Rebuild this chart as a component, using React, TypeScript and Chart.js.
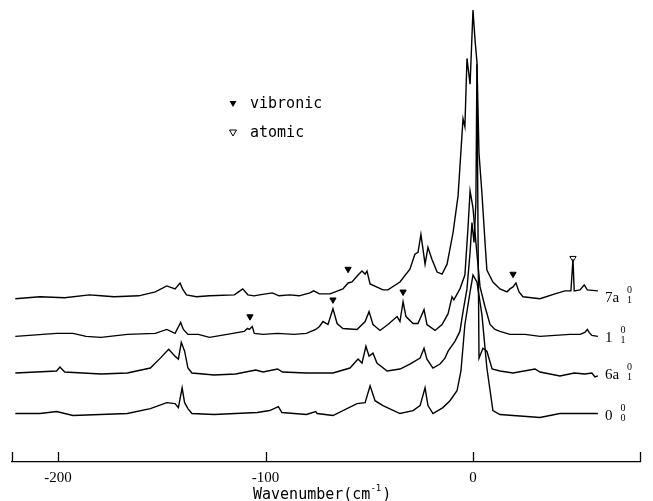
import React, { useEffect, useRef } from "react";
import { Chart, registerables } from "chart.js";
Chart.register(...registerables);

// Axis range (cm^-1) and tick labels
const X_MIN = -222.2;
const X_MAX = 80.5;
const tickValues = [-200, -100, 0];
const tickLabels = ["-200", "-100", "0"];

// Trace names (main, superscript, subscript) and vertical offsets (arb. units)
const traceMain = ["7a", "1", "6a", "0"];
const traceSup = ["0", "0", "0", "0"];
const traceSub = ["1", "1", "1", "0"];
const traceOffsets = [168, 127, 90, 49];

// 7a(1,0) spectrum
const x7a = [-220.6, -208.7, -196.8, -184.9, -179.3, -173.0, -161.1, -153.1, -147.6, -143.6, -141.2, -140.0, -138.1, -133.3, -127.0, -115.0, -113.0, -111.0, -108.5, -105.5, -102.9, -96.7, -93.5, -88.3, -83.8, -78.6, -76.8, -74.0, -68.9, -62.7, -60.2, -58.3, -55.4, -53.5, -52.0, -51.1, -49.6, -43.4, -41.0, -35.2, -30.4, -28.0, -26.5, -25.1, -23.1, -21.7, -19.8, -17.3, -14.9, -12.5, -9.6, -7.2, -4.8, -3.9, -2.9, -1.4, 0, 1.0, 1.9, 2.9, 4.3, 5.8, 6.7, 9.6, 13.0, 16.4, 17.8, 19.3, 20.7, 22.2, 24.1, 32.3, 39.5, 44.3, 47.2, 48.2, 48.8, 51.6, 53.6, 55.1, 60.2];
const y7a = [-3, -1, -2, 1, 0, -1, 0, 4, 10, 7, 13, 7, 1, -1, 0, 1, 4, 7, 1, 0, 1, 3, 0, 1, 0, 3, 5, 2, 2, 7, 13, 14, 21, 25, 22, 25, 12, 6, 6, 14, 27, 42, 44, 62, 32, 49, 37, 24, 22, 32, 64, 101, 179, 171, 240, 214, 289, 258, 237, 144, 104, 54, 26, 14, 7, 4, 7, 9, 13, 4, -1, -3, 2, 5, 5, 37, 5, 6, 11, 6, 5];

// 1(1,0) spectrum
const x1 = [-220.6, -200.7, -192.8, -186.5, -179.3, -166.6, -153.1, -147.6, -143.6, -140.9, -139.6, -137.4, -132.4, -127.0, -118.5, -110.3, -108.7, -107.8, -106.4, -105.4, -101.2, -94.2, -86.2, -80.3, -75.8, -74.0, -72.3, -69.9, -67.5, -65.5, -62.7, -55.9, -52.0, -50.1, -48.2, -44.8, -41.0, -36.6, -35.2, -33.7, -32.3, -28.9, -26.5, -23.6, -22.2, -18.3, -14.9, -12.0, -10.1, -9.2, -6.3, -3.9, -2.4, -1.4, 0, 1.4, 3.4, 5.8, 8.2, 10.6, 13.0, 17.8, 25.1, 32.3, 46.7, 51.6, 53.9, 55.1, 56.0, 57.3, 60.2];
const y1 = [0, 3, 3, 0, -1, 2, 3, 7, 3, 14, 7, 2, 2, -1, 2, 5, 8, 7, 10, 3, 2, 3, 2, 3, 7, 10, 15, 12, 28, 13, 8, 7, 15, 25, 12, 6, 12, 20, 15, 35, 20, 13, 13, 27, 12, 6, 12, 23, 40, 37, 48, 62, 110, 147, 130, 95, 50, 30, 12, 7, 5, 2, 2, 0, 2, 2, 4, 7, 4, 1, 0];

// 6a(1,0) spectrum
const x6a = [-220.6, -200.7, -199.1, -196.8, -179.3, -166.6, -155.5, -150.7, -146.7, -143.6, -142.0, -140.6, -139.0, -137.4, -135.5, -124.8, -114.4, -104.7, -101.2, -94.2, -91.8, -80.3, -67.5, -59.3, -55.4, -53.5, -51.6, -50.1, -48.2, -46.3, -41.4, -35.2, -30.4, -25.5, -23.6, -22.2, -19.3, -15.9, -13.5, -12.0, -8.7, -6.3, -4.8, -2.9, -1.4, -0.5, 0.5, 1.4, 1.9, 2.4, 2.9, 4.8, 6.7, 9.2, 13.0, 19.3, 29.9, 32.3, 41.9, 48.8, 53.9, 57.3, 58.8, 60.2];
const y6a = [0, 2, 6, 1, -1, 0, 5, 15, 24, 17, 14, 31, 22, 5, 0, -2, -1, 3, 1, 4, 1, 0, 0, 5, 14, 10, 27, 17, 20, 10, 2, 4, 9, 15, 25, 14, 5, 9, 15, 22, 32, 42, 62, 85, 122, 152, 132, 172, 312, 150, 15, 25, 22, 4, 2, 0, 4, 1, -3, 0, -1, 0, -4, -3];

// 0(0,0) spectrum
const x00 = [-220.6, -208.7, -200.7, -192.8, -166.6, -155.5, -147.6, -143.6, -142.0, -140.2, -139.0, -137.4, -135.5, -124.8, -114.4, -104.0, -98.0, -93.8, -92.1, -80.3, -75.8, -75.1, -67.5, -55.9, -52.0, -49.6, -47.2, -43.4, -35.2, -28.9, -25.5, -23.1, -21.7, -19.3, -14.5, -11.1, -7.7, -5.8, -3.9, -1.4, 0, 1.9, 4.3, 6.7, 9.6, 13.0, 32.3, 41.9, 60.2];
const y00 = [0, 0, 2, -2, 0, 5, 11, 10, 6, 26, 11, 5, 0, -1, 0, 1, 3, 7, 1, -1, 2, 0, -2, 10, 11, 28, 13, 8, 0, 3, 8, 26, 8, 0, 6, 13, 23, 43, 90, 123, 140, 133, 100, 46, 3, -1, -4, 0, 0];

// Marker positions (x in cm^-1, height above the trace baseline)
const vib7aX = [-60.2, 19.3];
const vib7aY = [27, 22];
const vib1X = [-107.5, -67.5, -33.7];
const vib1Y = [20, 37, 45];
const atom7aX = [48.2];
const atom7aY = [38];

const legendLabels = ["vibronic", "atomic"];
const xTitle = "Wavenumber(cm";
const xTitleSup = "-1";

const traceXs = [x7a, x1, x6a, x00];
const traceYs = [y7a, y1, y6a, y00];

function pts(xs: number[], ys: number[], off: number) {
  return xs.map((x, i) => ({ x, y: ys[i] + off }));
}

const decorPlugin = {
  id: "decor",
  afterDraw(chart: any) {
    const ctx = chart.ctx;
    const xs = chart.scales.x;
    const ys = chart.scales.y;
    const bottom = chart.chartArea.bottom;
    ctx.save();
    ctx.strokeStyle = "#000";
    ctx.fillStyle = "#000";
    ctx.lineWidth = 1.3;
    [X_MIN, ...tickValues, X_MAX].forEach((v) => {
      const px = Math.round(xs.getPixelForValue(v)) + 0.5;
      ctx.beginPath();
      ctx.moveTo(px, bottom);
      ctx.lineTo(px, bottom - 10);
      ctx.stroke();
    });
    traceMain.forEach((m, i) => {
      const xsArr = traceXs[i];
      const lx = xs.getPixelForValue(xsArr[xsArr.length - 1]) + 7;
      const by = ys.getPixelForValue(traceOffsets[i]) + 6;
      ctx.font = "15px 'Liberation Serif'";
      ctx.textBaseline = "alphabetic";
      ctx.textAlign = "left";
      ctx.fillText(m, lx, by);
      const w = ctx.measureText(m).width;
      ctx.font = "10px 'Liberation Serif'";
      ctx.fillText(traceSup[i], lx + w + 8, by - 9);
      ctx.fillText(traceSub[i], lx + w + 8, by + 1);
    });
    const legX = 233;
    const legY = [104, 133];
    legendLabels.forEach((t, i) => {
      const cy = legY[i];
      ctx.beginPath();
      ctx.moveTo(legX - 3.5, cy - 3);
      ctx.lineTo(legX + 3.5, cy - 3);
      ctx.lineTo(legX, cy + 3);
      ctx.closePath();
      if (i === 0) ctx.fill();
      else {
        ctx.lineWidth = 1;
        ctx.stroke();
      }
      ctx.font = "15px 'DejaVu Sans Mono'";
      ctx.textBaseline = "middle";
      ctx.fillText(t, legX + 17, cy);
    });
    ctx.font = "15px 'DejaVu Sans Mono'";
    ctx.textBaseline = "alphabetic";
    const tx = 253;
    const ty = 499;
    ctx.fillText(xTitle, tx, ty);
    const tw = ctx.measureText(xTitle).width;
    ctx.font = "9px 'DejaVu Sans Mono'";
    ctx.fillText(xTitleSup, tx + tw, ty - 8);
    const sw = ctx.measureText(xTitleSup).width;
    ctx.font = "15px 'DejaVu Sans Mono'";
    ctx.fillText(")", tx + tw + sw + 1, ty);
    ctx.restore();
  },
};

export default function App() {
  const ref = useRef<HTMLCanvasElement>(null);
  useEffect(() => {
    if (!ref.current) return;
    const lineSets = traceXs.map((xs, i) => ({
      type: "line" as const,
      data: pts(xs, traceYs[i], traceOffsets[i]),
      borderColor: "#000",
      borderWidth: 1.4,
      pointRadius: 0,
      tension: 0,
      fill: false,
    }));
    const markerSets = [
      { data: [...pts(vib7aX, vib7aY, traceOffsets[0]), ...pts(vib1X, vib1Y, traceOffsets[1])], bg: "#000" },
      { data: pts(atom7aX, atom7aY, traceOffsets[0]), bg: "#fff" },
    ].map((m) => ({
      type: "scatter" as const,
      data: m.data,
      pointStyle: "triangle",
      rotation: 180,
      pointRadius: 3.6,
      backgroundColor: m.bg,
      borderColor: "#000",
      borderWidth: 1,
    }));
    const chart = new Chart(ref.current, {
      type: "line",
      data: { datasets: [...lineSets, ...markerSets] as any },
      options: {
        animation: false,
        responsive: false,
        events: [],
        layout: { padding: { left: 12, right: 13, top: 0, bottom: 0 } },
        plugins: { legend: { display: false }, tooltip: { enabled: false } },
        scales: {
          x: {
            type: "linear",
            min: X_MIN,
            max: X_MAX,
            offset: false,
            afterBuildTicks: (s: any) => {
              s.ticks = tickValues.map((v) => ({ value: v }));
            },
            afterFit: (s: any) => {
              s.height = 39;
            },
            ticks: {
              color: "#000",
              font: { family: "'Liberation Serif'", size: 15 },
              padding: 7,
              maxRotation: 0,
              autoSkip: false,
              callback: (v: any) => tickLabels[tickValues.indexOf(Number(v))] ?? "",
            },
            grid: { display: false, drawTicks: false },
            border: { display: true, color: "#000", width: 1.3 },
          },
          y: { display: false, min: 0, max: 462 },
        },
      },
      plugins: [decorPlugin],
    });
    return () => chart.destroy();
  }, []);
  return (
    <div style={{ position: "fixed", left: 0, top: 0, width: 653, height: 501, background: "#fff" }}>
      <canvas ref={ref} width={653} height={501} />
    </div>
  );
}
